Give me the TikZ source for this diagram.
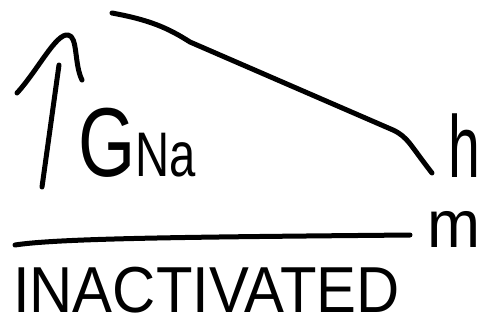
\documentclass[tikz,border=0pt]{standalone}
\usepackage{fontspec}
\setsansfont{Liberation Sans}
\usepackage{tikz}
\usetikzlibrary{positioning,calc}
\tikzset{
  pen/.style={line width=5pt, line cap=round, line join=round, draw=black},
  hand/.style={inner sep=0pt, text depth=0pt, font=\sffamily},
}

\begin{document}
\begin{tikzpicture}[x=1pt,y=-1pt]
    \useasboundingbox (0,0) rectangle (480,325);
    % axis arrow for the conductance
    \coordinate (gbase) at (42,187);
    \coordinate (gtop) at (59,65);
    \coordinate (tip) at (68,35);
    \coordinate (wingl) at (17,93);
    \coordinate (wingr) at (82,80);
    \draw[pen] (gbase) -- (gtop);
    \draw[pen] (wingl) .. controls (38,70) and (56,33) .. (tip)
      .. controls (78,36) and (74,64) .. (wingr);
    \node[hand, anchor=base west, xscale=0.75] (gna) at (78,176)
      {\fontsize{98}{98}\selectfont G\fontsize{63}{63}\selectfont Na};
    % h curve, falling
    \coordinate (hstart) at (112,13);
    \coordinate (hknee) at (393,130);
    \coordinate (hend) at (432,173);
    \draw[pen] (hstart) .. controls (150,20) and (168,28) .. (190,42)
      -- (hknee) .. controls (408,137) and (410,145) .. (hend);
    \node[hand, anchor=base west, xscale=0.65] (h) at (448,177)
      {\fontsize{88}{88}\selectfont h};
    % m line, flat
    \coordinate (mstart) at (15,245);
    \coordinate (mend) at (410,235);
    \draw[pen] (mstart) .. controls (60,238) and (200,237) .. (mend);
    \node[hand, anchor=base west, xscale=0.95] (m) at (427,247)
      {\fontsize{67}{67}\selectfont m};
    \node[hand, anchor=base west, xscale=0.92] (inact) at (13,312)
      {\fontsize{65}{65}\selectfont INACTIVATED};
  \end{tikzpicture}
\end{document}
